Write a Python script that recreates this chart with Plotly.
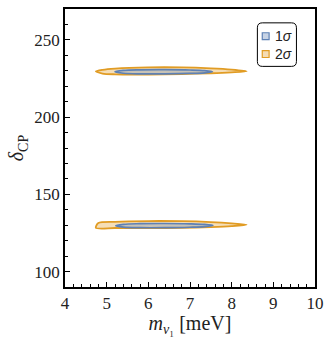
import plotly.graph_objects as go

# 2-sigma contour, lower island (boundary points, meV / degrees)
o_low_x = [4.80, 5.20, 6.00, 6.80, 7.50, 8.00, 8.36, 8.00, 7.50, 6.80, 6.00, 5.20, 4.74, 4.80]
o_low_y = [131.4, 132.2, 132.7, 132.6, 132.0, 131.2, 130.3, 129.4, 128.8, 128.3, 128.1, 128.2, 128.3, 131.4]
# 1-sigma contour, lower island
b_low_x = [5.22, 5.40, 5.80, 6.40, 7.00, 7.35, 7.55, 7.35, 7.00, 6.40, 5.80, 5.40, 5.22]
b_low_y = [129.7, 130.6, 131.0, 131.1, 130.9, 130.5, 129.8, 129.1, 128.7, 128.4, 128.4, 128.8, 129.7]
# 2-sigma contour, upper island
o_up_x = [4.74, 4.90, 5.20, 6.00, 6.80, 7.50, 8.00, 8.36, 8.00, 7.50, 6.80, 6.00, 5.20, 4.90, 4.74]
o_up_y = [229.6, 230.6, 231.4, 232.2, 232.2, 231.6, 230.8, 229.7, 229.0, 228.4, 227.9, 227.6, 227.7, 228.2, 229.6]
# 1-sigma contour, upper island
b_up_x = [5.20, 5.40, 5.80, 6.40, 7.00, 7.35, 7.54, 7.35, 7.00, 6.40, 5.80, 5.40, 5.20]
b_up_y = [229.3, 230.2, 230.6, 230.7, 230.5, 230.1, 229.4, 228.7, 228.3, 228.0, 228.0, 228.4, 229.3]

x_ticks = [4, 5, 6, 7, 8, 9, 10]
y_ticks = [100, 150, 200, 250]
legend_labels = ["1<i>σ</i>", "2<i>σ</i>"]

ORANGE = "#E19C24"
BLUE = "#5E81B5"
OFILL = "rgba(225,156,36,0.33)"
BFILL = "rgba(94,129,181,0.30)"

fig = go.Figure()
for xs, ys in [(o_low_x, o_low_y), (o_up_x, o_up_y)]:
    fig.add_trace(go.Scatter(x=xs, y=ys, mode="lines", fill="toself", fillcolor=OFILL,
                             line=dict(color=ORANGE, width=1.8, shape="spline", smoothing=0.8),
                             showlegend=False, hoverinfo="skip"))
for xs, ys in [(b_low_x, b_low_y), (b_up_x, b_up_y)]:
    fig.add_trace(go.Scatter(x=xs, y=ys, mode="lines", fill="toself", fillcolor=BFILL,
                             line=dict(color=BLUE, width=1.7, shape="spline", smoothing=1.0),
                             showlegend=False, hoverinfo="skip"))

axis_common = dict(showgrid=False, zeroline=False, showline=True, linecolor="black", linewidth=1.5,
                   mirror=True, ticks="inside", ticklen=5, tickwidth=1.2, tickcolor="black",
                   tickfont=dict(family="Liberation Serif", size=17, color="#222"))

fig.update_xaxes(range=[4, 10], tickvals=x_ticks, ticktext=[str(v) for v in x_ticks],
                 minor=dict(dtick=0.2, ticks="inside", ticklen=3, tickcolor="black", tickwidth=1),
                 title=dict(text="<i>m</i><sub><i>ν</i>₁</sub> [meV]", standoff=3,
                            font=dict(family="Liberation Serif", size=20, color="#222")),
                 **axis_common)
fig.update_yaxes(range=[90, 270], tickvals=y_ticks, ticktext=[str(v) for v in y_ticks],
                 minor=dict(dtick=10, ticks="inside", ticklen=3, tickcolor="black", tickwidth=1),
                 title=dict(text="<i>δ</i><sub>CP</sub>", standoff=5,
                            font=dict(family="Liberation Serif", size=20, color="#222")),
                 **axis_common)

# custom legend (rounded frame, small squares, labels) in paper coordinates
W, H = 256.0, 281.0
def px(x):
    return (x - 65) / W
def py(y):
    return 1 - (y - 7) / H
x0, x1, y0, y1, r = 262, 302, 21, 65, 5
path = (f"M {px(x0 + r)} {py(y0)} L {px(x1 - r)} {py(y0)} Q {px(x1)} {py(y0)} {px(x1)} {py(y0 + r)} "
        f"L {px(x1)} {py(y1 - r)} Q {px(x1)} {py(y1)} {px(x1 - r)} {py(y1)} "
        f"L {px(x0 + r)} {py(y1)} Q {px(x0)} {py(y1)} {px(x0)} {py(y1 - r)} "
        f"L {px(x0)} {py(y0 + r)} Q {px(x0)} {py(y0)} {px(x0 + r)} {py(y0)} Z")
fig.add_shape(type="path", path=path, xref="paper", yref="paper",
              line=dict(color="black", width=1), fillcolor="white", layer="above")
for i, (lab, lc, fc) in enumerate(zip(legend_labels, [BLUE, ORANGE],
                                      ["rgba(94,129,181,0.35)", "rgba(225,156,36,0.35)"])):
    cy = 34.5 + 18 * i
    fig.add_shape(type="rect", xref="paper", yref="paper",
                  x0=px(267), x1=px(274), y0=py(cy - 3.5), y1=py(cy + 3.5),
                  line=dict(color=lc, width=1.2), fillcolor=fc, layer="above")
    fig.add_annotation(x=px(278), y=py(cy), xref="paper", yref="paper", text=lab,
                       showarrow=False, xanchor="left", yanchor="middle",
                       font=dict(family="Liberation Sans", size=14, color="#222"))

fig.update_layout(width=331, height=337, margin=dict(l=65, r=10, t=7, b=49),
                  plot_bgcolor="white", paper_bgcolor="white", showlegend=False)

fig.write_html("out.html")
